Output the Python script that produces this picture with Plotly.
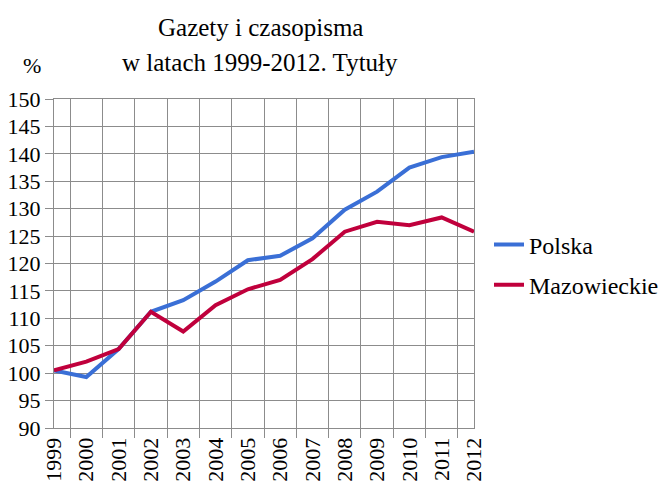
import plotly.graph_objects as go

years = [str(y) for y in range(1999, 2013)]
polska = [100.5, 99.3, 104.4, 111.2, 113.3, 116.7, 120.6, 121.4, 124.6, 129.8, 133.1, 137.5, 139.4, 140.4]
mazowieckie = [100.5, 102.1, 104.4, 111.2, 107.6, 112.4, 115.3, 117.0, 120.8, 125.8, 127.6, 127.0, 128.4, 125.8]
title_lines = ["Gazety i czasopisma", "w latach 1999-2012. Tytuły"]

FONT = "Liberation Serif"
GRID = "#8c8c8c"

fig = go.Figure()
fig.add_trace(go.Scatter(x=years, y=polska, mode="lines", name="Polska",
                         line=dict(color="#3a6fd6", width=4), legendgroup="a"))
fig.add_trace(go.Scatter(x=years, y=mazowieckie, mode="lines", name="Mazowieckie",
                         line=dict(color="#c0003c", width=4), legendgroup="b"))

W, H = 659, 483
L, T = 46, 91
PW, PH = 420, 329
PT = 99  # page y of plot top


def py(y_page):
    return 1 + (PT - y_page) / PH


def px(x_page):
    return (x_page - 54) / PW


fig.update_layout(
    template="none",
    width=W, height=H,
    margin=dict(l=L, r=W - L - PW, t=T, b=H - T - PH, autoexpand=False),
    paper_bgcolor="white", plot_bgcolor="white",
    font=dict(family=FONT, size=22, color="black"),
    showlegend=True,
    legend=dict(x=px(489), y=py(265), xanchor="left", yanchor="middle",
                font=dict(family=FONT, size=24, color="black"), tracegroupgap=6,
                traceorder="grouped", bgcolor="rgba(0,0,0,0)"),
    xaxis=dict(type="category", tickson="boundaries", showgrid=True, gridcolor=GRID,
               gridwidth=1, ticks="outside", ticklen=9, tickcolor=GRID,
               tickangle=-90, showline=True, linecolor=GRID, linewidth=1,
               mirror=True, automargin=False,
               tickfont=dict(family=FONT, size=22, color="black")),
    yaxis=dict(range=[90, 150], dtick=5, showgrid=True, gridcolor=GRID, gridwidth=1,
               ticks="outside", ticklen=8, tickcolor=GRID, showline=True,
               linecolor=GRID, linewidth=1, mirror=True, zeroline=False,
               automargin=False, tickfont=dict(family=FONT, size=22, color="black")),
    annotations=[
        dict(text=title_lines[0], xref="paper", yref="paper", x=px(260), y=py(27.5),
             xanchor="center", yanchor="middle", showarrow=False,
             font=dict(family=FONT, size=25, color="black")),
        dict(text=title_lines[1], xref="paper", yref="paper", x=px(260), y=py(62),
             xanchor="center", yanchor="middle", showarrow=False,
             font=dict(family=FONT, size=25, color="black")),
        dict(text="%", xref="paper", yref="paper", x=px(32), y=py(66),
             xanchor="center", yanchor="middle", showarrow=False,
             font=dict(family=FONT, size=22, color="black")),
    ],
)

fig.write_html("out.html")
